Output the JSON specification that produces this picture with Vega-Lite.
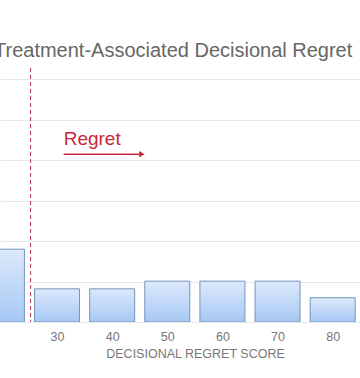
{
  "$schema": "https://vega.github.io/schema/vega-lite/v6.json",
  "width": 360,
  "height": 254,
  "autosize": "none",
  "padding": {"left": 0, "top": 68, "right": 0, "bottom": 56},
  "background": "white",
  "config": {"view": {"stroke": null}, "font": "Liberation Sans"},
  "title": {
    "text": "Treatment-Associated Decisional Regret",
    "anchor": "start",
    "dx": -6,
    "fontSize": 20,
    "fontWeight": "normal",
    "color": "#666666",
    "offset": 7,
    "font": "Liberation Sans"
  },
  "datasets": {
    "bars": [
      {"score": 20, "pct": 9.0},
      {"score": 30, "pct": 4.1},
      {"score": 40, "pct": 4.1},
      {"score": 50, "pct": 5.05},
      {"score": 60, "pct": 5.05},
      {"score": 70, "pct": 5.05},
      {"score": 80, "pct": 3.0},
      {"score": 90, "pct": 2.0}
    ],
    "cut": [{"score": 25.2}],
    "label": [{"score": 31.2, "pct": 21.9, "text": "Regret"}],
    "arrow": [{"score": 31.2, "pct": 20.75}, {"score": 45.0, "pct": 20.75}],
    "head": [{"score": 45.4, "pct": 20.75}]
  },
  "layer": [
    {
      "data": {"name": "bars"},
      "mark": {
        "type": "bar",
        "size": 45,
        "clip": true,
        "stroke": "#7394bd",
        "strokeWidth": 1,
        "fill": {
          "gradient": "linear",
          "x1": 0, "y1": 0, "x2": 0, "y2": 1,
          "stops": [
            {"offset": 0, "color": "#dde9fa"},
            {"offset": 1, "color": "#a6c8f5"}
          ]
        }
      },
      "encoding": {
        "x": {
          "field": "score",
          "type": "quantitative",
          "scale": {"domain": [20.56, 84.05], "nice": false, "zero": false},
          "axis": {
            "values": [30, 40, 50, 60, 70, 80],
            "title": "DECISIONAL REGRET SCORE",
            "titleFontSize": 12.5,
            "titleFontWeight": "normal",
            "titleColor": "#777777",
            "titleX": 195,
            "titlePadding": 5,
            "labelFontSize": 12.5,
            "labelColor": "#777777",
            "labelPadding": 8,
            "domain": false,
            "ticks": false,
            "grid": false
          }
        },
        "y": {
          "field": "pct",
          "type": "quantitative",
          "scale": {"domain": [0, 31.4], "nice": false},
          "axis": {
            "values": [0, 5, 10, 15, 20, 25, 30],
            "labels": false,
            "ticks": false,
            "domain": false,
            "title": null,
            "grid": true,
            "gridColor": "#e9e9e9",
            "gridWidth": 1
          }
        }
      }
    },
    {
      "data": {"name": "cut"},
      "mark": {"type": "rule", "color": "#b3354a", "strokeDash": [4, 3], "strokeWidth": 1},
      "encoding": {"x": {"field": "score", "type": "quantitative"}}
    },
    {
      "data": {"name": "label"},
      "mark": {"type": "text", "align": "left", "baseline": "alphabetic", "fontSize": 19, "color": "#c8283c", "font": "Liberation Sans"},
      "encoding": {
        "x": {"field": "score", "type": "quantitative"},
        "y": {"field": "pct", "type": "quantitative"},
        "text": {"field": "text"}
      }
    },
    {
      "data": {"name": "arrow"},
      "mark": {"type": "line", "color": "#c8283c", "strokeWidth": 1.5},
      "encoding": {
        "x": {"field": "score", "type": "quantitative"},
        "y": {"field": "pct", "type": "quantitative"}
      }
    },
    {
      "data": {"name": "head"},
      "mark": {"type": "point", "shape": "triangle-right", "filled": true, "color": "#c8283c", "size": 40, "opacity": 1},
      "encoding": {
        "x": {"field": "score", "type": "quantitative"},
        "y": {"field": "pct", "type": "quantitative"}
      }
    }
  ]
}
